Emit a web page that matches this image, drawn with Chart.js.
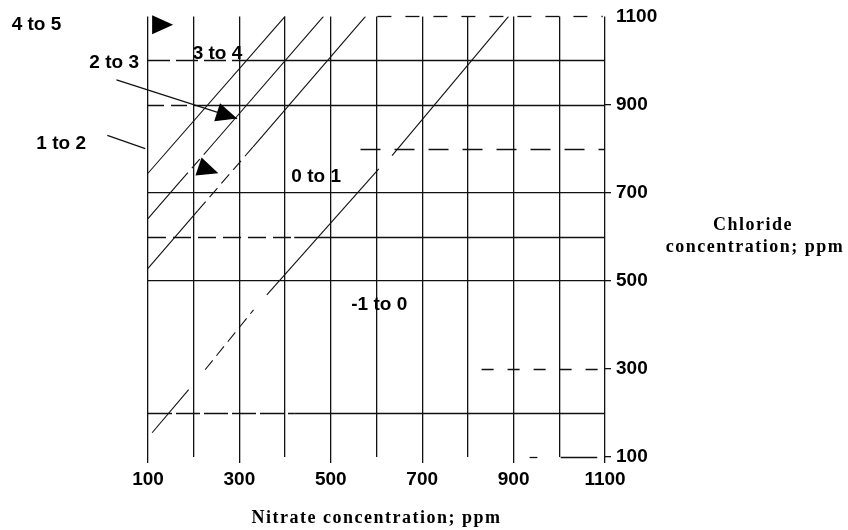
<!DOCTYPE html>
<html>
<head>
<meta charset="utf-8">
<script src="https://cdn.jsdelivr.net/npm/chart.js@4/dist/chart.umd.min.js"></script>
<style>
  html, body { margin: 0; padding: 0; background: #fff; }
  canvas { display: block; }
</style>
</head>
<body>
<canvas id="chart" width="848" height="530"></canvas>
<script>
// Labelled ticks on both axes (ppm)
const nitrateTickLabels = [100, 300, 500, 700, 900, 1100];
const chlorideTickLabels = [100, 300, 500, 700, 900, 1100];

// Class boundary lines: nitrate (x) / chloride (y) pairs in ppm,
// plus how each stretch between two points is stroked.
const boundary0Nitrate  = [109, 189, 225, 331, 360, 605, 634, 889];
const boundary0Chloride = [155, 253, 298, 434, 468, 754, 784, 1100];
const boundary0Strokes  = ['solid', 'gap', 'dashed', 'gap', 'solid', 'gap', 'solid'];

const boundary1Nitrate  = [100, 209, 330, 576];
const boundary1Chloride = [528, 659, 804, 1100];
const boundary1Strokes  = ['solid', 'dashed', 'solid'];

const boundary2Nitrate  = [100, 170, 236, 484];
const boundary2Chloride = [641, 725, 803, 1100];
const boundary2Strokes  = ['solid', 'dashed', 'solid'];

const boundary3Nitrate  = [100, 400];
const boundary3Chloride = [744, 1100];
const boundary3Strokes  = ['solid'];

// Index classes named on the chart
const classNames = ['4 to 5', '3 to 4', '2 to 3', '1 to 2', '0 to 1', '-1 to 0'];

// ---- layout / styling (not data) ----
const INK = '#111';
const SANS = '"Liberation Sans", Arial, sans-serif';
const SERIF = '"Liberation Serif", "Times New Roman", serif';

// where each class name sits, in axis units
const classLabelAt = {
  '4 to 5': [-144, 1081],
  '3 to 4': [252, 1016],
  '2 to 3': [26, 995],
  '1 to 2': [-90, 812],
  '0 to 1': [468, 737],
  '-1 to 0': [606, 445]
};

// leader arrows, in axis units
const leaders = [
  { from: [31, 956], tip: [295, 868], shaftTo: [295, 868] },   // 2 to 3
  { from: [11, 830], tip: [254, 744], shaftTo: [94, 800] },    // 1 to 2
  { from: [-100, 1081], tip: [155, 1081], shaftTo: null }      // 4 to 5
];

// horizontal rules drawn piece by piece (chloride level, nitrate span, dash)
const rulePieces = [
  { chloride: 1100, from: 602, to: 1095, dash: [14, 14] },
  { chloride: 1000, from: 100, to: 300,  dash: [22, 6] },
  { chloride: 1000, from: 300, to: 1100, dash: [] },
  { chloride: 900,  from: 100, to: 200,  dash: [16, 7] },
  { chloride: 900,  from: 200, to: 1100, dash: [] },
  { chloride: 800,  from: 565, to: 1100, dash: [20, 14] },
  { chloride: 600,  from: 100, to: 420,  dash: [18, 7] },
  { chloride: 600,  from: 420, to: 1100, dash: [] },
  { chloride: 300,  from: 830, to: 1100, dash: [12, 14] },
  { chloride: 200,  from: 100, to: 420,  dash: [24, 4] },
  { chloride: 200,  from: 420, to: 1100, dash: [] },
  { chloride: 100,  from: 935, to: 952,  dash: [] },
  { chloride: 100,  from: 1003, to: 1083, dash: [] }
];
const gridChlorideRules = [500, 700];

function makeBoundary(label, xs, ys, strokes) {
  return {
    label,
    data: xs.map((x, i) => ({ x, y: ys[i] })),
    showLine: true,
    pointRadius: 0,
    borderColor: INK,
    borderWidth: 1.1,
    segment: {
      borderColor: ctx => strokes[ctx.p0DataIndex] === 'gap' ? 'rgba(0,0,0,0)' : INK,
      borderDash: ctx => strokes[ctx.p0DataIndex] === 'dashed' ? [12, 6] : []
    }
  };
}

function arrowHead(ctx, fx, fy, tx, ty, len, half) {
  const a = Math.atan2(ty - fy, tx - fx);
  const bx = tx - len * Math.cos(a), by = ty - len * Math.sin(a);
  ctx.beginPath();
  ctx.moveTo(tx, ty);
  ctx.lineTo(bx + half * Math.sin(a), by - half * Math.cos(a));
  ctx.lineTo(bx - half * Math.sin(a), by + half * Math.cos(a));
  ctx.closePath();
  ctx.fill();
}

const overlay = {
  id: 'overlay',
  beforeDatasetsDraw(chart) {
    const { ctx, scales: { x, y } } = chart;
    ctx.save();
    ctx.strokeStyle = INK;
    ctx.lineWidth = 1.3;
    rulePieces.forEach(r => {
      const py = Math.round(y.getPixelForValue(r.chloride)) + 0.5;
      ctx.setLineDash(r.dash);
      ctx.beginPath();
      ctx.moveTo(x.getPixelForValue(r.from), py);
      ctx.lineTo(x.getPixelForValue(r.to), py);
      ctx.stroke();
    });
    ctx.restore();
  },
  afterDraw(chart) {
    const { ctx, chartArea, scales: { x, y } } = chart;
    const px = v => x.getPixelForValue(v);
    const py = v => y.getPixelForValue(v);
    ctx.save();

    // class names
    ctx.fillStyle = '#000';
    ctx.font = 'bold 19px ' + SANS;
    ctx.textAlign = 'center';
    ctx.textBaseline = 'middle';
    classNames.forEach(name => {
      const [lx, ly] = classLabelAt[name];
      ctx.fillText(name, px(lx), py(ly));
    });

    // leader arrows
    ctx.strokeStyle = INK;
    ctx.fillStyle = '#000';
    ctx.lineWidth = 1.2;
    leaders.forEach(l => {
      const fx = px(l.from[0]), fy = py(l.from[1]);
      const tx = px(l.tip[0]), ty = py(l.tip[1]);
      if (l.shaftTo) {
        ctx.beginPath();
        ctx.moveTo(fx, fy);
        ctx.lineTo(px(l.shaftTo[0]), py(l.shaftTo[1]));
        ctx.stroke();
      }
      arrowHead(ctx, fx, fy, tx, ty, 21, 9.5);
    });

    // axis titles
    ctx.fillStyle = '#000';
    ctx.font = 'bold 18px ' + SERIF;
    ctx.letterSpacing = '1.5px';
    ctx.textAlign = 'center';
    ctx.textBaseline = 'middle';
    ctx.fillText('Nitrate concentration; ppm', (chartArea.left + chartArea.right) / 2, chartArea.bottom + 61);
    ctx.fillText('Chloride', chartArea.right + 148, chartArea.top + 209);
    ctx.fillText('concentration; ppm', chartArea.right + 150, chartArea.top + 231);
    ctx.restore();
  }
};

Chart.defaults.font.family = SANS;

new Chart(document.getElementById('chart'), {
  type: 'scatter',
  data: {
    datasets: [
      makeBoundary('boundary 0', boundary0Nitrate, boundary0Chloride, boundary0Strokes),
      makeBoundary('boundary 1', boundary1Nitrate, boundary1Chloride, boundary1Strokes),
      makeBoundary('boundary 2', boundary2Nitrate, boundary2Chloride, boundary2Strokes),
      makeBoundary('boundary 3', boundary3Nitrate, boundary3Chloride, boundary3Strokes)
    ]
  },
  options: {
    responsive: false,
    animation: false,
    devicePixelRatio: 1,
    layout: { padding: { left: 148, top: 15, right: 0, bottom: 0 } },
    plugins: { legend: { display: false }, tooltip: { enabled: false } },
    scales: {
      x: {
        type: 'linear',
        min: 100, max: 1100,
        border: { display: false },
        grid: {
          color: INK,
          lineWidth: 1.3,
          tickLength: 6,
          tickColor: c => nitrateTickLabels.includes(c.tick && c.tick.value) ? INK : 'rgba(0,0,0,0)'
        },
        ticks: {
          stepSize: 100,
          autoSkip: false,
          maxRotation: 0,
          padding: 5,
          color: '#000',
          font: { size: 19, weight: 'bold' },
          callback: v => nitrateTickLabels.includes(v) ? String(v) : ''
        },
        afterFit: s => { s.height = 73; }
      },
      y: {
        type: 'linear',
        position: 'right',
        min: 100, max: 1100,
        border: { display: false },
        grid: {
          color: c => gridChlorideRules.includes(c.tick && c.tick.value) ? INK : 'rgba(0,0,0,0)',
          lineWidth: 1.3,
          tickLength: 6,
          tickColor: c => (chlorideTickLabels.includes(c.tick && c.tick.value) && c.tick.value !== 1100) ? INK : 'rgba(0,0,0,0)'
        },
        ticks: {
          stepSize: 100,
          autoSkip: false,
          padding: 5,
          color: '#000',
          font: { size: 19, weight: 'bold' },
          callback: v => chlorideTickLabels.includes(v) ? String(v) : ''
        },
        afterFit: s => { s.width = 243; }
      }
    }
  },
  plugins: [overlay]
});
</script>
</body>
</html>
